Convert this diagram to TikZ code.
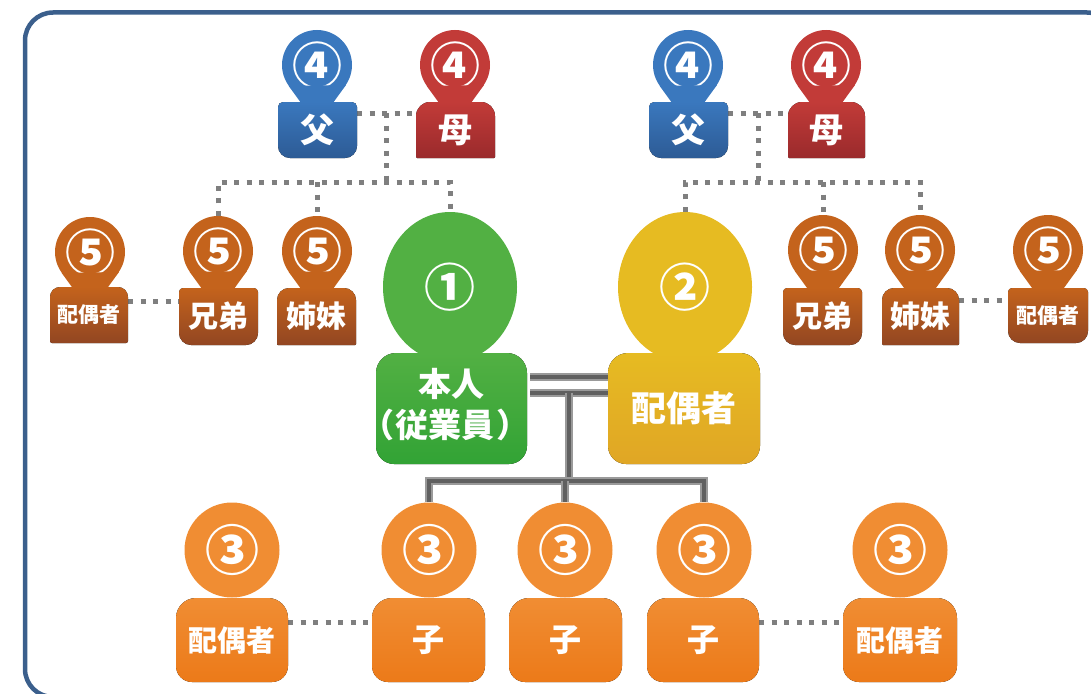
\documentclass[tikz,border=0pt]{standalone}
\usepackage{fontspec}
\setmainfont{Noto Sans CJK JP}
\usetikzlibrary{calc,shapes.geometric}
\pgfdeclarelayer{bg}
\pgfsetlayers{bg,main}
\definecolor{frameblue}{HTML}{3B5F8C}
\definecolor{blueH}{HTML}{3A78BE}
\definecolor{blueB}{HTML}{2D5B95}
\definecolor{redH}{HTML}{C23B38}
\definecolor{redB}{HTML}{9A2A2C}
\definecolor{brownH}{HTML}{C4631C}
\definecolor{brownB}{HTML}{924622}
\definecolor{greenH}{HTML}{52B043}
\definecolor{greenB}{HTML}{32A335}
\definecolor{yellowH}{HTML}{E6BB22}
\definecolor{yellowB}{HTML}{E0A625}
\definecolor{orangeH}{HTML}{F08D33}
\definecolor{orangeB}{HTML}{EC7A19}
\definecolor{dotgray}{HTML}{7F7F7F}
\definecolor{pipeO}{HTML}{9A9A9A}
\definecolor{pipeI}{HTML}{606060}
\tikzset{
  phead/.style={circle, inner sep=0pt, minimum size=70pt, text=white,
    font=\fontsize{50}{50}\selectfont\bfseries},
  bighead/.style={ellipse, inner sep=0pt, minimum width=134pt, minimum height=150pt,
    text=white, font=\fontsize{51}{51}\selectfont\bfseries},
  kidhead/.style={circle, inner sep=0pt, minimum size=95pt, text=white,
    font=\fontsize{54}{54}\selectfont\bfseries},
  bodytext/.style={inner sep=0pt, text=white, align=center, font=\bfseries},
  dotline/.style={draw=dotgray, line width=5pt, dash pattern=on 5pt off 7.5pt},
  pipeouter/.style={draw=pipeO, line width=8pt},
  pipeinner/.style={draw=pipeI, line width=4pt},
  frameline/.style={draw=frameblue, line width=4.5pt, rounded corners=28pt},
}
% body: name, x1, y1, x2, y2, top radius, bottom radius, fill, text
\newcommand\pbody[9]{%
  \fill[#8] (#2,{(#3+#5)/2}) [rounded corners=#6] -- (#2,#3) -- (#4,#3) -- (#4,{(#3+#5)/2})
    [rounded corners=#7] -- (#4,#5) -- (#2,#5) -- cycle;
  \node[bodytext, minimum width={#4-#2}, minimum height={#5-#3}] (#1) at ({(#2+#4)/2},{(#3+#5)/2}) {#9};}
% pin tail under a round head: name, colour
\newcommand\ppin[2]{%
  \fill[#2] (#1.-35.7) -- ($(#1.center)+(0,60)$) -- (#1.-144.3) -- cycle;}
\newcommand\pipeline[1]{\draw[pipeouter] #1; \draw[pipeinner] #1;}
\begin{document}
\begin{tikzpicture}[x=1pt,y=-1pt]
\useasboundingbox (0,0) rectangle (1091,693);
\draw[frameline] (25,12.5) rectangle (1115,697);

% ---- parents (4) ----
\node[phead, fill=blueH] (H4a) at (317,65) {④};
\ppin{H4a}{blueH}
\pbody{F1}{278}{102}{357}{158}{5pt}{12pt}{top color=blueH, bottom color=blueB}{\fontsize{34}{34}\selectfont 父}
\node[phead, fill=redH] (H4b) at (455,65) {④};
\ppin{H4b}{redH}
\pbody{M1}{416}{102}{495}{158}{14pt}{1pt}{top color=redH, bottom color=redB}{\fontsize{34}{34}\selectfont 母}
\node[phead, fill=blueH] (H4c) at (688,65) {④};
\ppin{H4c}{blueH}
\pbody{F2}{649}{102}{728}{158}{5pt}{12pt}{top color=blueH, bottom color=blueB}{\fontsize{34}{34}\selectfont 父}
\node[phead, fill=redH] (H4d) at (826,65) {④};
\ppin{H4d}{redH}
\pbody{M2}{788}{102}{865}{158}{14pt}{1pt}{top color=redH, bottom color=redB}{\fontsize{34}{34}\selectfont 母}

% ---- siblings (5) ----
\node[phead, fill=brownH] (H5a) at (90,252) {⑤};
\ppin{H5a}{brownH}
\pbody{S1}{50}{287}{128}{343}{10pt}{2pt}{top color=brownH, bottom color=brownB}{\fontsize{21}{21}\selectfont 配偶者}
\node[phead, fill=brownH] (H5b) at (218,251) {⑤};
\ppin{H5b}{brownH}
\pbody{BR1}{179}{288}{258}{345}{4pt}{12pt}{top color=brownH, bottom color=brownB}{\fontsize{30}{30}\selectfont 兄弟}
\node[phead, fill=brownH] (H5c) at (317,251) {⑤};
\ppin{H5c}{brownH}
\pbody{SI1}{277}{288}{356}{345}{12pt}{1pt}{top color=brownH, bottom color=brownB}{\fontsize{30}{30}\selectfont 姉妹}
\node[phead, fill=brownH] (H5d) at (823,250) {⑤};
\ppin{H5d}{brownH}
\pbody{BR2}{783}{288}{862}{345}{4pt}{12pt}{top color=brownH, bottom color=brownB}{\fontsize{30}{30}\selectfont 兄弟}
\node[phead, fill=brownH] (H5e) at (920,250) {⑤};
\ppin{H5e}{brownH}
\pbody{SI2}{882}{288}{959}{345}{12pt}{1pt}{top color=brownH, bottom color=brownB}{\fontsize{30}{30}\selectfont 姉妹}
\node[phead, fill=brownH] (H5f) at (1048,250) {⑤};
\ppin{H5f}{brownH}
\pbody{S2}{1008}{288}{1088}{343}{4pt}{12pt}{top color=brownH, bottom color=brownB}{\fontsize{21}{21}\selectfont 配偶者}

% ---- main couple ----
\node[bighead, fill=greenH] (HP) at (450,287) {①};
\pbody{P}{376}{353}{527}{464}{20pt}{18pt}{top color=greenH, bottom color=greenB}{\fontsize{33}{41}\selectfont\begin{tabular}{@{}c@{}}本人\\\hspace{-12pt}（\hspace{2pt}従業員\hspace{2pt}）\hspace{-12pt}\end{tabular}}
\node[bighead, fill=yellowH] (HS) at (685,287) {②};
\pbody{SP}{608}{353}{760}{464}{20pt}{18pt}{top color=yellowH, bottom color=yellowB}{\fontsize{35}{35}\selectfont 配偶者}

% ---- children (3) ----
\node[kidhead, fill=orangeH] (K0) at (232,550) {③};
\pbody{KB0}{176}{598}{288}{682}{20pt}{16pt}{top color=orangeH, bottom color=orangeB}{\fontsize{29}{29}\selectfont 配偶者}
\node[kidhead, fill=orangeH] (K1) at (429,550) {③};
\pbody{KB1}{372}{598}{485}{682}{20pt}{16pt}{top color=orangeH, bottom color=orangeB}{\fontsize{32}{32}\selectfont 子}
\node[kidhead, fill=orangeH] (K2) at (565,550) {③};
\pbody{KB2}{509}{598}{622}{682}{20pt}{16pt}{top color=orangeH, bottom color=orangeB}{\fontsize{32}{32}\selectfont 子}
\node[kidhead, fill=orangeH] (K3) at (704,550) {③};
\pbody{KB3}{647}{598}{759}{682}{20pt}{16pt}{top color=orangeH, bottom color=orangeB}{\fontsize{32}{32}\selectfont 子}
\node[kidhead, fill=orangeH] (K4) at (900,550) {③};
\pbody{KB4}{843}{598}{957}{682}{20pt}{16pt}{top color=orangeH, bottom color=orangeB}{\fontsize{29}{29}\selectfont 配偶者}

% ---- connectors ----
\begin{pgfonlayer}{bg}
  % left grandparents
  \coordinate (pf1) at ($(F1.east)+(0,-17)$);
  \coordinate (pm1) at (pf1 -| M1.west);
  \draw[dotline] (pf1) -- (pm1);
  \coordinate (mid1) at ($(pf1)!0.5!(pm1)$);
  \coordinate (lev1) at (0,182);
  \draw[dotline] (mid1) -- (mid1 |- lev1);
  \draw[dotline] (H5b.north) -- (H5b.north |- lev1) -- (HP.north |- lev1) -- (HP.north);
  \draw[dotline] (H5c.north |- lev1) -- (H5c.north);
  % right grandparents
  \coordinate (pf2) at ($(F2.east)+(0,-17)$);
  \coordinate (pm2) at (pf2 -| M2.west);
  \draw[dotline] (pf2) -- (pm2);
  \coordinate (mid2) at ($(pf2)!0.5!(pm2)$);
  \draw[dotline] (mid2) -- (mid2 |- lev1);
  \draw[dotline] (HS.north) -- (HS.north |- lev1) -- (H5e.north |- lev1) -- (H5e.north);
  \draw[dotline] (H5d.north |- lev1) -- (H5d.north);
  % sibling spouses
  \coordinate (s1) at ($(S1.east)+(0,-14)$);
  \draw[dotline] (s1) -- (s1 -| BR1.west);
  \coordinate (s2) at ($(SI2.east)+(0,-16)$);
  \draw[dotline] (s2) -- (s2 -| S2.west);
  % children spouses
  \coordinate (k0) at ($(KB0.east)+(0,-18)$);
  \draw[dotline] (k0) -- (k0 -| KB1.west);
  \coordinate (k4) at ($(KB3.east)+(0,-18)$);
  \draw[dotline] (k4) -- (k4 -| KB4.west);
  % marriage pipes
  \coordinate (pa) at ($(P.east)+(0,-31.5)$);
  \coordinate (pb) at ($(P.east)+(0,-16)$);
  \pipeline{(pa) -- (pa -| SP.west)}
  \pipeline{(pb) -- (pb -| SP.west)}
  \coordinate (pc) at ($(pb)!0.5!(pb -| SP.west)$);
  \coordinate (lev2) at (0,481);
  \pipeline{(pc) -- (pc |- lev2)}
  \pipeline{(K1.north) -- (K1.north |- lev2) -- (K3.north |- lev2) -- (K3.north)}
  \pipeline{(K2.north |- lev2) -- (K2.north)}
\end{pgfonlayer}
\end{tikzpicture}
\end{document}
